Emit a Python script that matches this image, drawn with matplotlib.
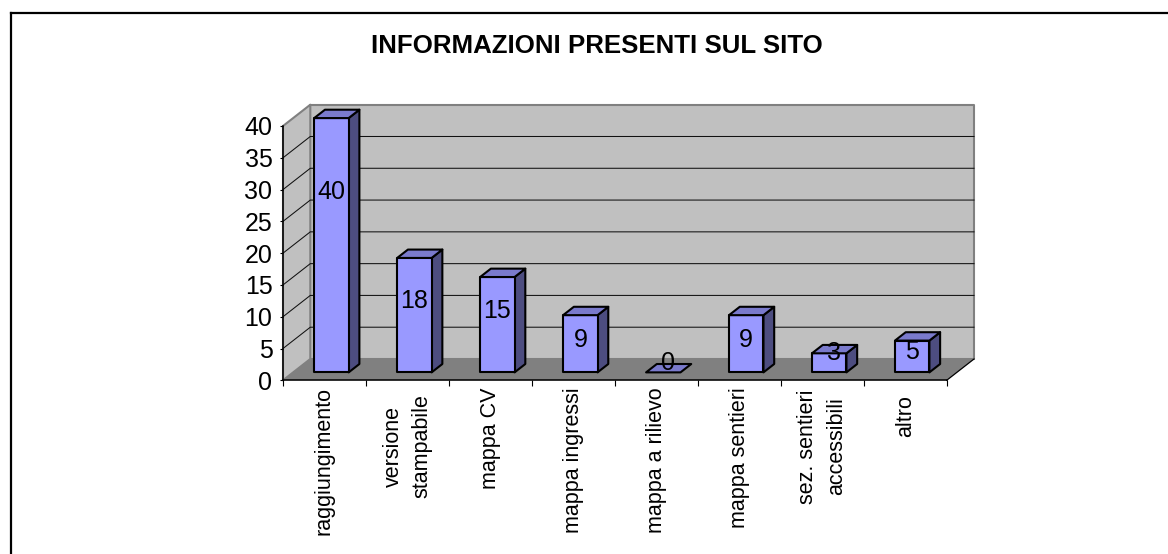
import matplotlib
matplotlib.use("Agg")
import matplotlib.pyplot as plt
from matplotlib.patches import Polygon
from matplotlib.lines import Line2D

plt.rcParams['font.family'] = ['Liberation Sans', 'DejaVu Sans']

# ---- data ----
title = "INFORMAZIONI PRESENTI SUL SITO"
categories = ["raggiungimento", "versione\nstampabile", "mappa CV", "mappa ingressi",
              "mappa a rilievo", "mappa sentieri", "sez. sentieri\naccessibili", "altro"]
values = [40, 18, 15, 9, 0, 9, 3, 5]
y_ticks = [0, 5, 10, 15, 20, 25, 30, 35, 40]

# ---- layout (not data) ----
W, H = 1168, 554
label_height = [28.3, 11.2, 9.6, 5.05, 1.4, 5.05, 3.0, 3.2]   # data-label height above bar foot
label_dx = [0, 0, 0, 0, 5, 0, 5, 0]                           # px
cat_label_drop = [7, 14, 7, 7, 7, 7, 9, 15]                   # px below the axis

C_WALL, C_FLOOR, C_EDGE = '#C0C0C0', '#808080', '#808080'
C_FRONT, C_TOP, C_SIDE = '#9999FF', '#7A7ACC', '#4D4D80'

fig = plt.figure(figsize=(W / 100, H / 100), dpi=100, facecolor='white')
L, R, T, B = 283.0, 946.7, 126.0, 380.3
ax = fig.add_axes([L / W, 1 - B / H, (R - L) / W, (B - T) / H])
ax.set_xlim(0, len(categories))
ax.set_ylim(0, 40)
ax.patch.set_visible(False)

# depth projection: d=0 front plane, d=1 back wall
DX = 27.3 / ((R - L) / len(categories))
DY = 21.3 / ((B - T) / 40)


def P(x, y, d=0.0):
    return (x + d * DX, y + d * DY)


n = len(categories)
top = y_ticks[-1]


def poly(pts, fc, ec='none', lw=0, z=1):
    ax.add_patch(Polygon(pts, closed=True, facecolor=fc, edgecolor=ec, linewidth=lw,
                         zorder=z, clip_on=False, joinstyle='round'))


# walls and floor
poly([P(0, 0, 1), P(n, 0, 1), P(n, top, 1), P(0, top, 1)], C_WALL, C_EDGE, 1.5, 1)
poly([P(0, 0), P(0, 0, 1), P(0, top, 1), P(0, top)], C_WALL, C_EDGE, 1.5, 1)
poly([P(0, 0), P(n, 0), P(n, 0, 1), P(0, 0, 1)], C_FLOOR, 'none', 0, 2)

# gridlines
for v in y_ticks[1:-1]:
    pts = [P(0, v), P(0, v, 1), P(n, v, 1)]
    ax.add_line(Line2D([p[0] for p in pts], [p[1] for p in pts], color='#111111', lw=0.75,
                       zorder=3, clip_on=False))
pts = [P(n, 0), P(n, 0, 1)]
ax.add_line(Line2D([p[0] for p in pts], [p[1] for p in pts], color='black', lw=0.9,
                   zorder=3, clip_on=False))

# bars
BAR_L, BAR_W, D0, D1 = 0.254, 0.415, 0.372, 0.765
for i, v in enumerate(values):
    x0, x1 = i + BAR_L, i + BAR_L + BAR_W
    if v > 0:
        poly([P(x1, 0, D0), P(x1, 0, D1), P(x1, v, D1), P(x1, v, D0)], C_SIDE, 'black', 1.5, 4)
        poly([P(x0, 0, D0), P(x1, 0, D0), P(x1, v, D0), P(x0, v, D0)], C_FRONT, 'black', 1.5, 4)
    poly([P(x0, v, D0), P(x1, v, D0), P(x1, v, D1), P(x0, v, D1)], C_TOP, 'black', 1.5, 4)
    lx, ly = P((x0 + x1) / 2, label_height[i], D0)
    ax.annotate(str(v), xy=(lx, ly), xytext=(label_dx[i] * 0.72, 0), textcoords='offset points',
                ha='center', va='center', fontsize=18, color='black', zorder=6,
                annotation_clip=False)

# axes
for s in ('top', 'right'):
    ax.spines[s].set_visible(False)
for s in ('left', 'bottom'):
    ax.spines[s].set_linewidth(1.1)
    ax.spines[s].set_zorder(5)
ax.set_yticks(y_ticks)
ax.set_xticks(range(n + 1))
ax.set_xticklabels([])
ax.tick_params(axis='y', length=2.4, width=0.8, pad=5.2, labelsize=18)
ax.tick_params(axis='x', length=4.6, width=0.8)

for i, c in enumerate(categories):
    ax.annotate(c, xy=(i + 0.5, 0), xytext=(0, -cat_label_drop[i] * 0.72),
                textcoords='offset points', rotation=90, ha='center', va='top',
                multialignment='center', fontsize=15.5, linespacing=1.5,
                color='black', annotation_clip=False)

# title
fig.text(597 / W, 1 - 45.5 / H, title, ha='center', va='center', fontsize=18.6,
         fontweight='bold', color='black')

# outer frame: top and left only
fig.add_artist(Line2D([10.5 / W, 1], [1 - 13 / H, 1 - 13 / H], transform=fig.transFigure,
                      color='black', lw=1.6))
fig.add_artist(Line2D([10.5 / W, 10.5 / W], [0, 1 - 13 / H], transform=fig.transFigure,
                      color='black', lw=1.6))

fig.savefig('out.png', dpi=100, facecolor='white')
